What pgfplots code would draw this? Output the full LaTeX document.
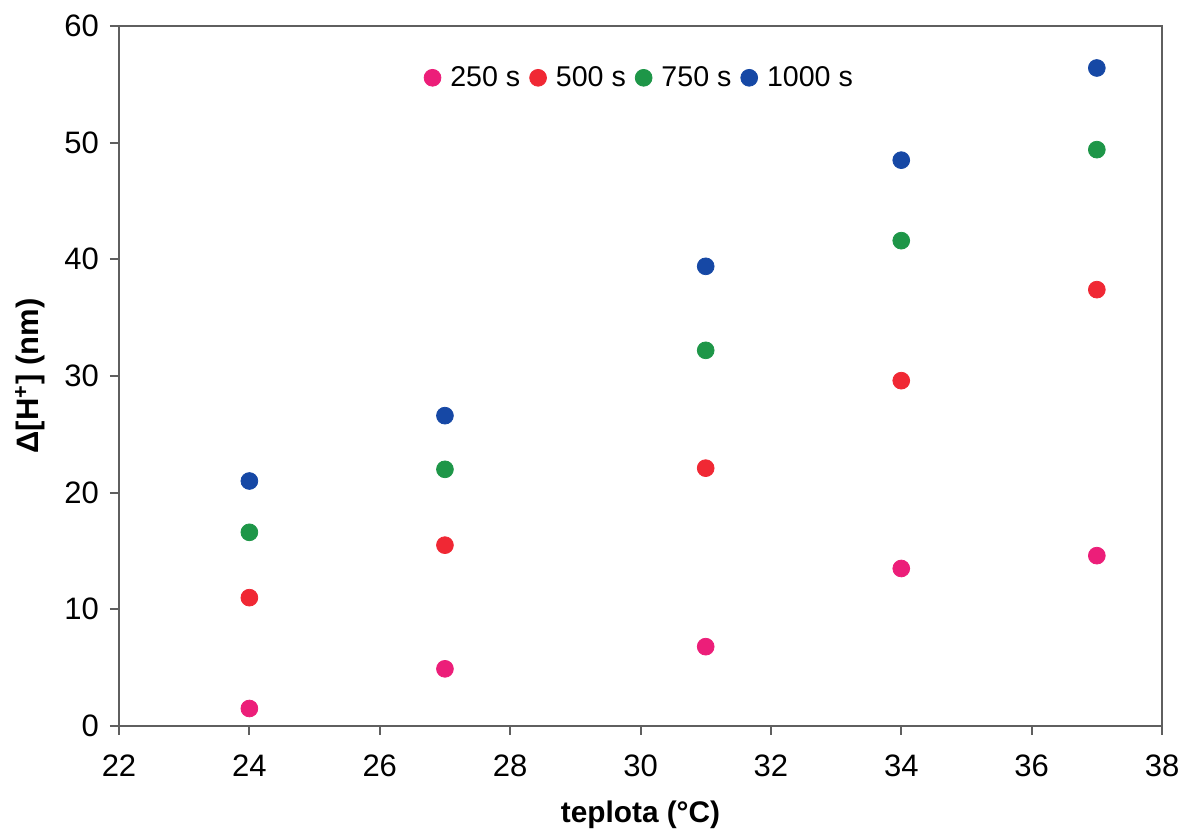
\documentclass[border=0pt]{standalone}
\usepackage{pgfplots}
\pgfplotsset{compat=1.18}
\usepackage{fontspec}
\setmainfont{Liberation Sans}
\definecolor{cpink}{RGB}{236,30,121}
\definecolor{cred}{RGB}{240,40,52}
\definecolor{cgreen}{RGB}{30,150,72}
\definecolor{cblue}{RGB}{22,72,165}
\definecolor{axgray}{RGB}{95,95,95}
\begin{document}
\begin{tikzpicture}
\begin{axis}[
  scale only axis,
  width=521.5pt, height=350pt,
  xmin=22, xmax=38, ymin=0, ymax=60,
  xtick={22,24,...,38}, ytick={0,10,...,60},
  tick align=outside, tick pos=left,
  major tick length=4.5pt,
  axis line style={axgray, line width=1pt},
  major tick style={axgray, line width=1pt},
  /pgf/number format/assume math mode=true,
  tick label style={font=\fontsize{15.5}{18}\selectfont},
  xticklabel style={yshift=-6.5pt},
  yticklabel style={xshift=-2pt},
  xlabel={teplota (°C)},
  ylabel={Δ[H\textsuperscript{+}] (nm)},
  xlabel style={font=\fontsize{14.9}{17}\selectfont\bfseries, at={([yshift=-44.5pt]axis description cs:0.5,0)}, anchor=center},
  ylabel style={font=\fontsize{15.5}{18}\selectfont\bfseries, at={([xshift=-44.5pt]axis description cs:0,0.5)}, anchor=center},
  legend style={at={(axis description cs:0.5,0.926)}, anchor=center, draw=none,
    font=\fontsize{14.3}{17}\selectfont, legend columns=4,
    /tikz/every even column/.append style={column sep=2.7pt},
    /tikz/every odd column/.append style={column sep=2.7pt}},
  legend image code/.code={\draw[#1] plot coordinates {(0.15cm,0cm)};},
]
\addplot[only marks, mark=*, mark size=4.2pt, draw=cpink, fill=cpink] coordinates {(24,1.5) (27,4.9) (31,6.8) (34,13.5) (37,14.6)};
\addlegendentry{250 s}
\addplot[only marks, mark=*, mark size=4.2pt, draw=cred, fill=cred] coordinates {(24,11.0) (27,15.5) (31,22.1) (34,29.6) (37,37.4)};
\addlegendentry{500 s}
\addplot[only marks, mark=*, mark size=4.2pt, draw=cgreen, fill=cgreen] coordinates {(24,16.6) (27,22.0) (31,32.2) (34,41.6) (37,49.4)};
\addlegendentry{750 s}
\addplot[only marks, mark=*, mark size=4.2pt, draw=cblue, fill=cblue] coordinates {(24,21.0) (27,26.6) (31,39.4) (34,48.5) (37,56.4)};
\addlegendentry{1000 s}
\end{axis}
\path[use as bounding box] ([shift={(-59.5pt,-51.5pt)}]current axis.south west) rectangle ([shift={(12pt,13pt)}]current axis.north east);
\end{tikzpicture}
\end{document}
